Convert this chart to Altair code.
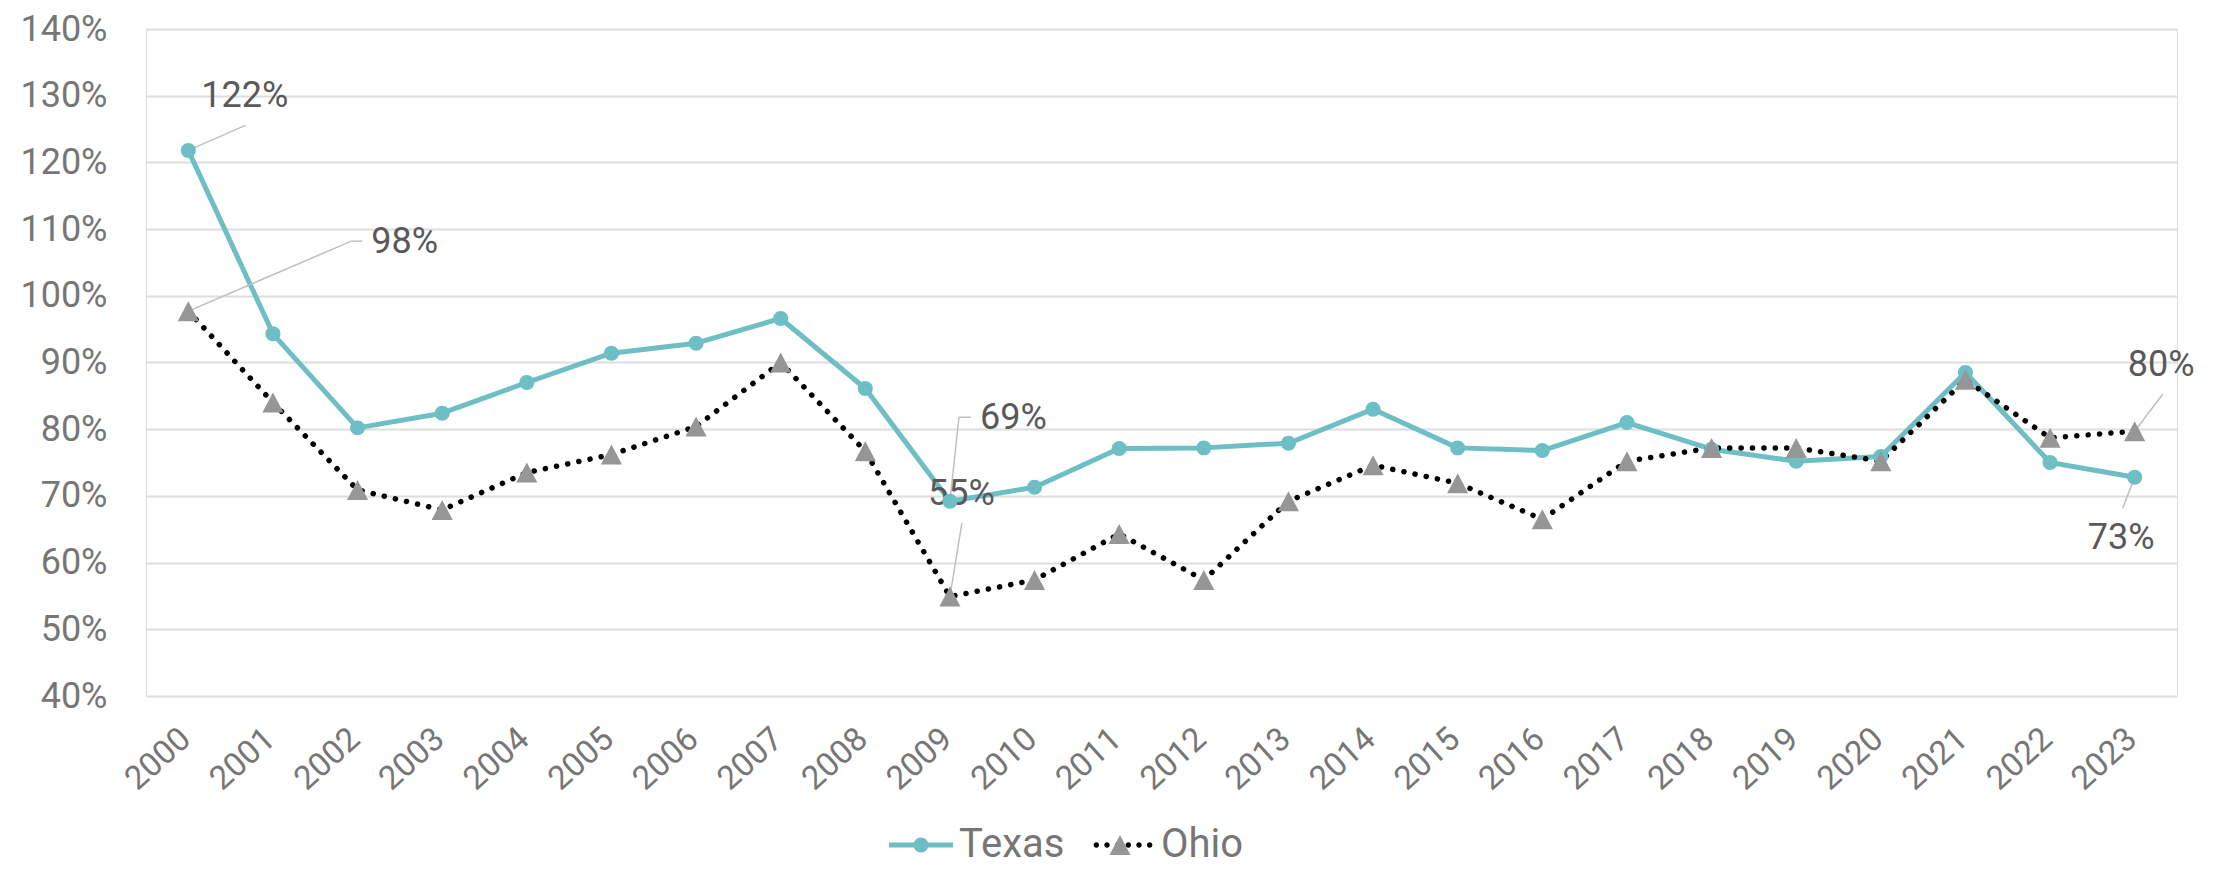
import altair as alt
import pandas as pd

# ---------------- data ----------------
years = [str(y) for y in range(2000, 2024)]
series_names = ["Texas", "Ohio"]
texas = [1.218, 0.943, 0.802, 0.824, 0.870, 0.914, 0.929, 0.966, 0.861, 0.692,
         0.713, 0.771, 0.772, 0.779, 0.830, 0.772, 0.768, 0.810, 0.770, 0.752,
         0.759, 0.885, 0.750, 0.728]
ohio = [0.977, 0.840, 0.709, 0.679, 0.735, 0.762, 0.804, 0.900, 0.767, 0.549,
        0.574, 0.643, 0.574, 0.692, 0.746, 0.719, 0.665, 0.752, 0.772, 0.772,
        0.752, 0.874, 0.787, 0.797]
y_ticks = [0.4, 0.5, 0.6, 0.7, 0.8, 0.9, 1.0, 1.1, 1.2, 1.3, 1.4]

rows = []
for s, vals in zip(series_names, [texas, ohio]):
    for yr, v in zip(years, vals):
        rows.append({"year": yr, "series": s, "value": v})
df = pd.DataFrame(rows)

# ---------------- style ----------------
FONT = "Roboto"
TEAL = "#6dbec5"
TRI_GRAY = "#969696"
AXIS_GRAY = "#767676"
LABEL_GRAY = "#595959"
LEADER = "#bfbfbf"

SYM = 4096  # all symbol paths drawn at 32 px per unit
circle_path = "M0.234,0A0.234,0.234 0 1,1 -0.234,0A0.234,0.234 0 1,1 0.234,0Z"
tri_path = "M0,-0.3125L0.33,0.3125L-0.33,0.3125Z"
line_path = "M-1,-0.078L1,-0.078L1,0.078L-1,0.078Z"


def dots_path(centers, r):
    return " ".join(
        f"M{c - r:.3f},0A{r},{r} 0 1,0 {c + r:.3f},0A{r},{r} 0 1,0 {c - r:.3f},0Z"
        for c in centers
    )


ohio_dots = dots_path([-0.833, -0.5, -0.167, 0.167, 0.5, 0.833], 0.085)

x_enc = alt.X(
    "year:O",
    sort=years,
    scale=alt.Scale(type="point", padding=0.5),
    axis=alt.Axis(
        title=None, domain=False, ticks=False, tickSize=0, grid=False,
        labelAngle=-42, labelAlign="right", labelBaseline="middle",
        labelPadding=38, labelOffset=-3,
        labelFont=FONT, labelFontSize=33, labelColor=AXIS_GRAY,
    ),
)
y_enc = alt.Y(
    "value:Q",
    scale=alt.Scale(domain=[0.4, 1.4], nice=False, zero=False),
    axis=alt.Axis(
        title=None, values=y_ticks, format=".0%", domain=False, ticks=False,
        tickSize=0, grid=True, gridColor="#dedede", gridWidth=2,
        labelPadding=39, labelFont=FONT, labelFontSize=36, labelColor=AXIS_GRAY,
    ),
)

base = alt.Chart(df).encode(x=x_enc, y=y_enc)

texas_line = base.transform_filter("datum.series == 'Texas'").mark_line(
    color=TEAL, strokeWidth=5, strokeJoin="round"
)
ohio_line = base.transform_filter("datum.series == 'Ohio'").mark_line(
    color="black", strokeWidth=5.5, strokeDash=[0.1, 11.3], strokeCap="round",
    strokeJoin="round"
)

LEG_COMMON = dict(
    title=None, orient="none", legendX=743, legendY=784, direction="horizontal",
    symbolSize=SYM, symbolOpacity=1, symbolStrokeWidth=0,
    labelFont=FONT, labelFontSize=40, labelOffset=6, labelColor=AXIS_GRAY,
)
# marker legend: symbols only, spaced to sit on top of the line legend
legend_m = alt.Legend(labelExpr="''", columnPadding=129, **LEG_COMMON)
legend_l = alt.Legend(columnPadding=26, **LEG_COMMON)

markers = base.mark_point(filled=True, size=SYM, opacity=1, strokeWidth=0).encode(
    shape=alt.Shape("series:N", scale=alt.Scale(domain=series_names,
                                                range=[circle_path, tri_path]),
                    legend=legend_m),
    color=alt.Color("series:N", scale=alt.Scale(domain=series_names,
                                                range=[TEAL, TRI_GRAY]),
                    legend=legend_m),
)

ghost = base.mark_point(filled=True, size=SYM, opacity=0, strokeWidth=0).encode(
    shape=alt.Shape("series:N", scale=alt.Scale(domain=series_names,
                                                range=[line_path, ohio_dots]),
                    legend=legend_l),
    color=alt.Color("series:N", scale=alt.Scale(domain=series_names,
                                                range=[TEAL, "black"]),
                    legend=legend_l),
)

# data label styling: text offset and leader segments (pixel offsets from point)
label_styles = [
    ("Texas", "2000", 13, -54, [(0, 0, 57, -25)]),
    ("Ohio", "2000", 183, -69, [(0, 0, 163, -70), (163, -70, 174, -70)]),
    ("Texas", "2009", 30, -83, [(0, 0, 9, -84), (9, -84, 21, -84)]),
    ("Ohio", "2009", -22, -103, [(0, 0, 12, -74)]),
    ("Ohio", "2023", -7, -66, [(0, 0, 28, -37)]),
    ("Texas", "2023", -47, 61, [(0, 0, -12, 31)]),
]

annot_layers = []
for s, yr, dx, dy, segs in label_styles:
    sub = base.transform_filter(f"datum.series == '{s}' && datum.year == '{yr}'")
    for (x1, y1, x2, y2) in segs:
        annot_layers.append(
            sub.mark_rule(color=LEADER, strokeWidth=1.5, xOffset=x1, yOffset=y1,
                          x2Offset=x2, y2Offset=y2).encode(
                x2=alt.X2("year:O"), y2=alt.Y2("value:Q"))
        )
    annot_layers.append(
        sub.mark_text(align="left", baseline="middle", dx=dx, dy=dy, font=FONT,
                      fontSize=36, color=LABEL_GRAY).encode(
            text=alt.Text("value:Q", format=".0%"))
    )

chart = alt.layer(texas_line, ohio_line, *annot_layers, ghost, markers).resolve_scale(
    color="independent", shape="independent"
).resolve_legend(color="independent", shape="independent").properties(
    width=2031, height=667,
    autosize=alt.AutoSizeParams(type="none"),
    padding={"left": 138, "top": 21, "right": 36, "bottom": 171},
).configure_view(stroke=None).configure(background="white")

chart.save("out.html", embed_options={"renderer": "svg", "actions": False})
